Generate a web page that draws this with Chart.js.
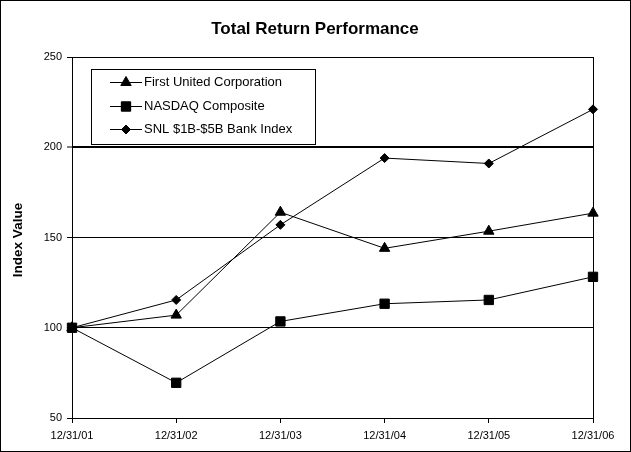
<!DOCTYPE html>
<html>
<head>
<meta charset="utf-8">
<script src="https://cdn.jsdelivr.net/npm/chart.js@4/dist/chart.umd.min.js"></script>
<style>
  html, body { margin: 0; padding: 0; background: #fff; }
  #wrap { width: 631px; height: 452px; box-sizing: border-box; border: 1px solid #000; background: #fff; }
  #wrap canvas { display: block; }
</style>
</head>
<body>
<div id="wrap"><canvas id="c" width="629" height="450"></canvas></div>
<script>
const categories = ['12/31/01', '12/31/02', '12/31/03', '12/31/04', '12/31/05', '12/31/06'];
const firstUnited = [100, 107, 164, 144, 153.5, 163.5];
const nasdaq = [100, 69.5, 103.5, 113.3, 115.4, 128.2];
const snlBank = [100, 115.4, 157, 194, 191, 221];
const seriesNames = ['First United Corporation', 'NASDAQ Composite', 'SNL $1B-$5B Bank Index'];
const yTicks = [50, 100, 150, 200, 250];
const chartTitle = 'Total Return Performance';
const yTitle = 'Index Value';

const FONT = "'Liberation Sans', Arial, sans-serif";

const overlay = {
  id: 'overlay',
  afterDraw(chart) {
    const ctx = chart.ctx;
    ctx.save();
    // title
    ctx.fillStyle = '#000';
    ctx.font = 'bold 17px ' + FONT;
    ctx.textAlign = 'center';
    ctx.textBaseline = 'middle';
    ctx.fillText(chartTitle, 314, 28);
    // y title
    ctx.save();
    ctx.translate(17, 239);
    ctx.rotate(-Math.PI / 2);
    ctx.font = 'bold 13.5px ' + FONT;
    ctx.fillText(yTitle, 0, 0);
    ctx.restore();
    // legend
    const bx = 90.5, by = 68.5, bw = 224, bh = 75;
    ctx.fillStyle = '#fff';
    ctx.fillRect(bx, by, bw, bh);
    ctx.strokeStyle = '#000';
    ctx.lineWidth = 1;
    ctx.strokeRect(bx, by, bw, bh);
    const rows = [81, 105, 128];
    chart.data.datasets.forEach((ds, i) => {
      const y = rows[i] + 0.5;
      ctx.beginPath();
      ctx.moveTo(109, y);
      ctx.lineTo(141, y);
      ctx.strokeStyle = '#000';
      ctx.lineWidth = 1;
      ctx.stroke();
      Chart.helpers.drawPoint(ctx, {
        pointStyle: ds.pointStyle,
        radius: ds.pointRadius,
        rotation: 0,
        borderWidth: 1
      }, 125, y);
      ctx.fillStyle = '#000';
      ctx.fill();
      ctx.font = '13px ' + FONT;
      ctx.textAlign = 'left';
      ctx.textBaseline = 'middle';
      ctx.fillText(ds.label, 143, rows[i]);
    });
    ctx.restore();
  }
};

new Chart(document.getElementById('c'), {
  type: 'line',
  data: {
    labels: categories,
    datasets: [
      { label: seriesNames[0], data: firstUnited, pointStyle: 'triangle', pointRadius: 6 },
      { label: seriesNames[1], data: nasdaq, pointStyle: 'rect', pointRadius: 6.6 },
      { label: seriesNames[2], data: snlBank, pointStyle: 'rectRot', pointRadius: 4.5 }
    ].map(d => Object.assign(d, {
      borderColor: '#000', backgroundColor: '#000', borderWidth: 1,
      pointBackgroundColor: '#000', pointBorderColor: '#000', pointBorderWidth: 1,
      tension: 0, fill: false, clip: false
    }))
  },
  options: {
    responsive: false,
    animation: false,
    events: [],
    layout: { padding: { top: 56, right: 37, left: 0, bottom: 0 } },
    plugins: { legend: { display: false }, title: { display: false }, tooltip: { enabled: false } },
    scales: {
      x: {
        type: 'category',
        offset: false,
        afterFit(s) { s.height = 33; },
        grid: {
          display: true,
          drawOnChartArea: true,
          offset: false,
          color: (c) => c.index === categories.length - 1 ? '#000' : 'rgba(0,0,0,0)',
          tickColor: '#000',
          tickLength: 5,
          tickWidth: 1,
          lineWidth: 1
        },
        border: { display: true, color: '#000', width: 1 },
        ticks: { color: '#000', font: { family: FONT, size: 11 }, padding: 6, maxRotation: 0, autoSkip: false }
      },
      y: {
        min: 50,
        max: 250,
        afterFit(s) { s.width = 71; },
        afterBuildTicks(s) { s.ticks = yTicks.map(v => ({ value: v })); },
        grid: {
          color: '#000',
          lineWidth: (c) => (c.tick && c.tick.value === 200) ? 2 : 1,
          tickWidth: 1,
          tickColor: '#000',
          tickLength: 5
        },
        border: { display: true, color: '#000', width: 1 },
        ticks: { color: '#000', font: { family: FONT, size: 11 }, padding: 5 }
      }
    }
  },
  plugins: [overlay]
});
</script>
</body>
</html>
